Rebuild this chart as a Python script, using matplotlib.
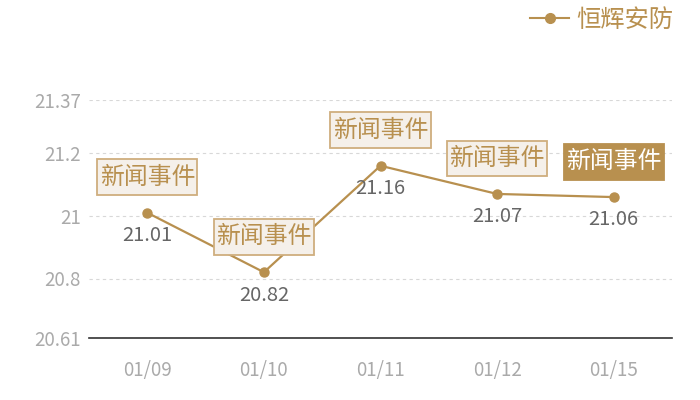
import matplotlib
matplotlib.use("Agg")
import matplotlib.pyplot as plt
from matplotlib.lines import Line2D
from matplotlib.path import Path

plt.rcParams['font.family'] = ['Noto Sans CJK SC', 'DejaVu Sans']

categories = ["01/09", "01/10", "01/11", "01/12", "01/15"]
values = [21.01, 20.82, 21.16, 21.07, 21.06]
series_name = "恒辉安防"
event_label = "新闻事件"
yticks = [20.61, 20.8, 21, 21.2, 21.37]
ytick_labels = ["20.61", "20.8", "21", "21.2", "21.37"]

gold = "#b8904f"


def tag_box(x0, y0, width, height, mutation_size):
    px = 0.10 * mutation_size
    py = 0.27 * mutation_size
    x0, y0 = x0 - px, y0 - py
    x1, y1 = x0 + width + 2 * px, y0 + height + 2 * py
    return Path([(x0, y0), (x1, y0), (x1, y1), (x0, y1), (x0, y0)], closed=True)


fig = plt.figure(figsize=(7, 4), dpi=100)
ax = fig.add_axes([89/700, 1-338/400, (672-89)/700, (338-100)/400])

x = list(range(len(categories)))
ax.plot(x, values, color=gold, lw=1.6, marker='o', ms=6.5, zorder=3)

ax.set_xlim(-0.5, len(categories)-0.5)
ax.set_ylim(20.61, 21.37)
ax.set_yticks(yticks)
ax.set_yticklabels(ytick_labels)
ax.set_xticks(x)
ax.set_xticklabels(categories)
ax.tick_params(axis='both', length=0, colors='#aaaaaa', labelsize=13.5)
ax.tick_params(axis='x', pad=16)
ax.tick_params(axis='y', pad=6)
for s in ['top', 'right', 'left']:
    ax.spines[s].set_visible(False)
ax.spines['bottom'].set_color('#333333')
ax.spines['bottom'].set_linewidth(1.2)
ax.grid(axis='y', color='#d8d8d8', ls=(0, (3, 3)), lw=0.8)
ax.set_axisbelow(True)

for i, v in enumerate(values):
    ax.annotate(f"{v:.2f}", (i, v), xytext=(0, -16.5), textcoords='offset points',
                ha='center', va='center', fontsize=14.5, color='#666666', zorder=5)
    last = (i == len(values) - 1)
    ax.annotate(event_label, (i, v), xytext=(0, 25.5), textcoords='offset points',
                ha='center', va='center', fontsize=17.2,
                color='white' if last else gold, zorder=6,
                bbox=dict(boxstyle=tag_box,
                          fc=gold if last else '#f5f0ea',
                          ec=gold if last else '#cfae7e', lw=1.3))

handle = Line2D([], [], color=gold, lw=1.5, marker='o', ms=7)
leg = fig.legend([handle], [series_name], loc='upper right',
                 bbox_to_anchor=(688/700, 1.02), frameon=False,
                 fontsize=17.5, handlelength=1.6, handletextpad=0.3,
                 borderaxespad=0.2)
for t in leg.get_texts():
    t.set_color(gold)

fig.savefig("out.png", dpi=100)
